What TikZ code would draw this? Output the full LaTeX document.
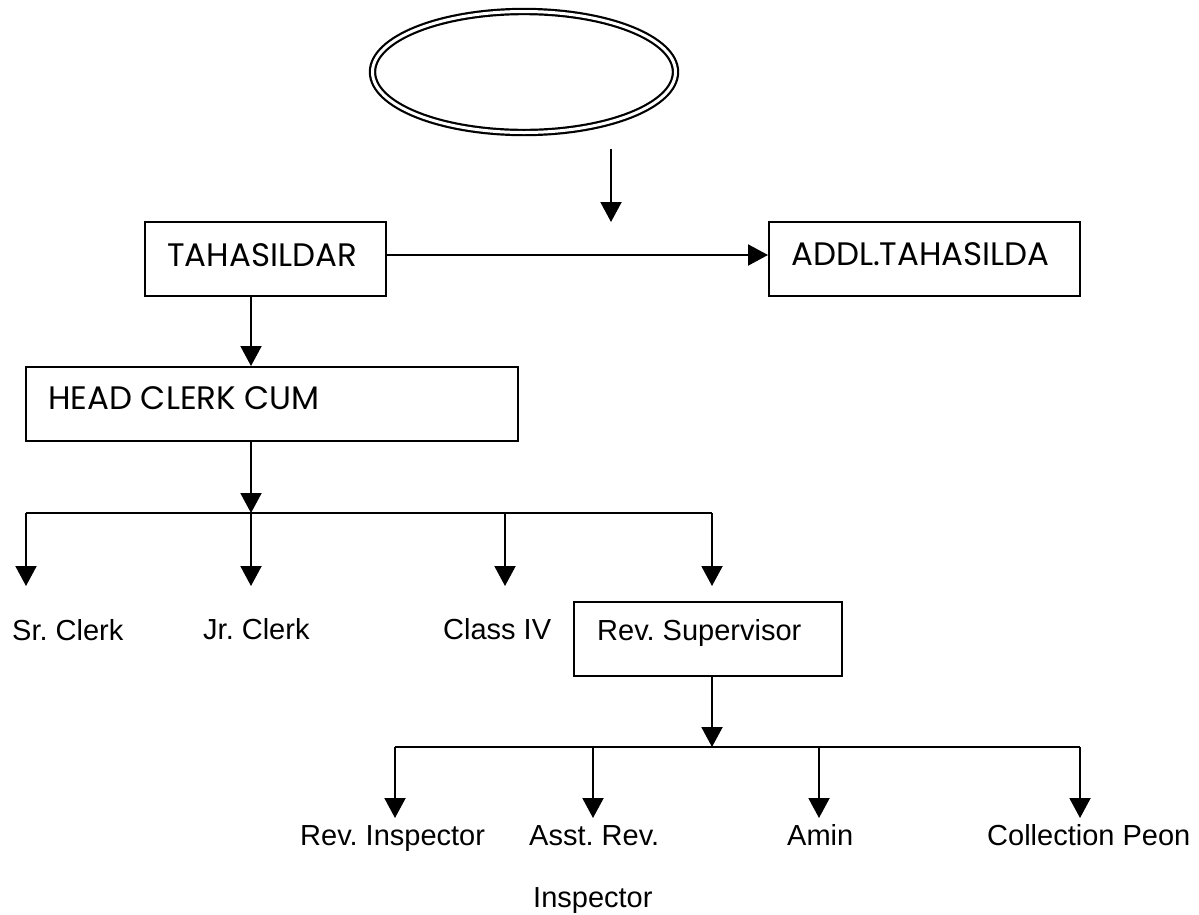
\documentclass[tikz,border=0pt]{standalone}
\usepackage{fontspec}
\setmainfont{Liberation Sans}
\newfontfamily\boxfont{Poppins}
\usetikzlibrary{arrows.meta,shapes.geometric}
\begin{document}
\frenchspacing
\begin{tikzpicture}[x=1pt,y=-1pt,
  conn/.style={line width=2pt, -{Triangle[width=21pt,length=20pt]}},
  busline/.style={line width=2pt},
  orgbox/.style={draw, line width=2pt, inner sep=0pt},
  boxtext/.style={anchor=base west, inner sep=0pt, font=\boxfont\fontsize{32.5}{38}\selectfont},
  lbl/.style={anchor=base west, inner sep=0pt, font=\fontsize{29}{35}\selectfont}]
\useasboundingbox (0,0) rectangle (1199,914);
% top ellipse
\node[ellipse, draw, line width=2.2pt, double distance=3pt, minimum width=303pt, minimum height=121pt, inner sep=0pt] (top) at (524,72) {};
% boxes
\node[orgbox, minimum width=241pt, minimum height=74pt] (tah) at (265.5,259) {};
\node[orgbox, minimum width=311pt, minimum height=74pt] (addl) at (924.5,259) {};
\node[orgbox, minimum width=492pt, minimum height=74pt] (head) at (272,404) {};
\node[orgbox, minimum width=268pt, minimum height=74pt] (revsup) at (708,639) {};
% box texts
\node[boxtext] (ttah) at (167,266) {TAHASILDAR};
\node[boxtext] (taddl) at (791,265) {ADDL.TAHASILDA};
\node[boxtext] (thead) at (48,409) {HEAD CLERK CUM};
\node[lbl] (trev) at (597,640) {Rev. Supervisor};
% labels
\node[lbl] (sr) at (12,640) {Sr. Clerk};
\node[lbl] (jr) at (203,639) {Jr. Clerk};
\node[lbl] (cl4) at (443,639) {Class IV};
\node[lbl] (rins) at (300,845) {Rev. Inspector};
\node[lbl] (asst) at (529,845) {Asst. Rev.};
\node[lbl] (asst2) at (533,907) {Inspector};
\node[lbl] (amin) at (787,845) {Amin};
\node[lbl] (peon) at (987,845) {Collection Peon};
% coordinates
\coordinate (e1) at (611,149);
\coordinate (e2) at (611,222);
\coordinate (j1) at (251,513);
\coordinate (b1l) at (26,513);
\coordinate (b1c) at (505,513);
\coordinate (b1r) at (712,513);
\coordinate (d1) at (26,586);
\coordinate (d2) at (251,586);
\coordinate (d3) at (505,586);
\coordinate (d4) at (712,586);
\coordinate (j2) at (712,747);
\coordinate (b2l) at (395,747);
\coordinate (b2a) at (593,747);
\coordinate (b2b) at (819,747);
\coordinate (b2r) at (1080,747);
\coordinate (f1) at (395,818);
\coordinate (f2) at (593,818);
\coordinate (f3) at (819,818);
\coordinate (f4) at (1080,818);
% connectors
\draw[conn] (e1) -- (e2);
\draw[conn] ([yshift=4pt]tah.east) -- ([yshift=4pt]addl.west);
\draw[conn] (tah.south -| j1) -- (head.north -| j1);
\draw[conn] (head.south -| j1) -- (j1);
\draw[busline] (b1l) -- (b1r);
\draw[conn] (b1l) -- (d1);
\draw[conn] (j1) -- (d2);
\draw[conn] (b1c) -- (d3);
\draw[conn] (b1r) -- (d4);
\draw[conn] (revsup.south -| j2) -- (j2);
\draw[busline] (b2l) -- (b2r);
\draw[conn] (b2l) -- (f1);
\draw[conn] (b2a) -- (f2);
\draw[conn] (b2b) -- (f3);
\draw[conn] (b2r) -- (f4);
\end{tikzpicture}
\end{document}
